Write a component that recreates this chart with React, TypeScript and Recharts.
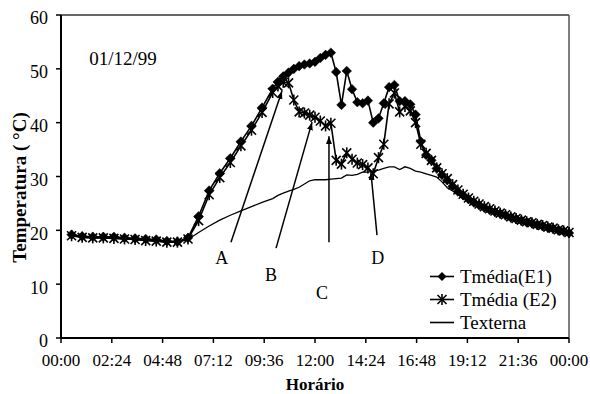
import React from 'react';
import {
  LineChart,
  Line,
  XAxis,
  YAxis,
  Legend,
  ReferenceLine,
  ReferenceDot,
  Label,
} from 'recharts';

// ---- data (hours since midnight) ----
const hours = [
  0.5, 1, 1.5, 2, 2.5, 3, 3.5, 4, 4.5, 5, 5.5, 6, 6.5, 7, 7.5, 8, 8.5, 9, 9.5, 10,
  10.25, 10.5, 10.75, 11, 11.25, 11.5, 11.75, 12, 12.25, 12.5, 12.75, 13,
  13.25, 13.5, 13.75, 14, 14.25, 14.5, 14.75, 15, 15.25, 15.5, 15.75, 16,
  16.25, 16.5, 16.75, 17, 17.25, 17.5, 17.75, 18,
  18.25, 18.5, 18.75, 19, 19.25, 19.5, 19.75, 20, 20.25, 20.5, 20.75, 21,
  21.25, 21.5, 21.75, 22, 22.25, 22.5, 22.75, 23, 23.25, 23.5, 23.75, 24,
];

const tmediaE1 = [
  19.2, 18.9, 18.8, 18.8, 18.8, 18.6, 18.5, 18.4, 18.3, 18.0, 17.9,
  18.6, 22.6, 27.4, 30.6, 33.4, 36.5, 39.4, 42.8, 46.3,
  47.6, 48.6, 49.3, 50.0, 50.5, 50.8, 51.0, 51.3, 52.0, 52.6, 53.0, 49.4,
  43.3, 49.6, 46.2, 43.8, 43.6, 44.1, 40.0, 40.8, 43.6, 46.6, 47.0, 44.0,
  44.0, 43.4, 41.5, 36.5, 34.0, 33.0, 31.5, 30.3,
  29.3, 28.2, 27.2, 26.5, 25.8, 25.2, 24.7, 24.2, 23.8, 23.4, 23.1, 22.8,
  22.4, 22.1, 21.8, 21.5, 21.3, 21.0, 20.8, 20.5, 20.3, 20.0, 19.8, 19.5,
];

const tmediaE2 = [
  19.0, 18.7, 18.6, 18.6, 18.5, 18.4, 18.3, 18.1, 18.0, 17.8, 17.8,
  18.4, 21.8, 26.6, 29.8, 32.6, 35.7, 38.6, 41.9, 45.6,
  46.8, 47.5, 47.4, 44.2, 42.0, 41.8, 41.4, 41.0, 40.3, 39.4, 39.9, 33.0,
  32.3, 34.4, 33.2, 32.5, 32.2, 31.6, 30.5, 33.5, 36.0, 43.5, 45.5, 42.0,
  43.0, 42.2, 40.0, 36.0, 34.3, 33.0, 31.6, 30.5,
  29.6, 28.5, 27.5, 26.7, 26.0, 25.4, 24.9, 24.4, 24.0, 23.6, 23.2, 22.9,
  22.5, 22.2, 21.9, 21.6, 21.4, 21.1, 20.9, 20.6, 20.4, 20.1, 19.9, 19.6,
];

const texterna = [
  19.0, 18.7, 18.6, 18.6, 18.5, 18.4, 18.3, 18.1, 18.0, 17.8, 17.8,
  18.3, 19.6, 20.8, 21.9, 22.8, 23.6, 24.4, 25.2, 25.9,
  26.5, 26.9, 27.3, 27.6, 28.0, 28.6, 29.2, 29.4, 29.4, 29.4, 29.5, 29.6,
  29.7, 30.3, 30.2, 30.4, 30.8, 30.8, 31.0, 31.2, 31.5, 31.8, 31.8, 31.3,
  31.8, 31.5, 31.0, 30.8, 30.5, 30.2, 29.9, 29.0,
  27.9, 27.3, 26.8, 26.2, 25.6, 25.0, 24.5, 24.0, 23.6, 23.2, 22.9, 22.6,
  22.2, 21.9, 21.6, 21.3, 21.1, 20.8, 20.6, 20.3, 20.1, 19.8, 19.6, 19.3,
];

const xTicks = [0, 2.4, 4.8, 7.2, 9.6, 12, 14.4, 16.8, 19.2, 21.6, 24];
const yTicks = [0, 10, 20, 30, 40, 50, 60];

const seriesNames = ['Tmédia(E1)', 'Tmédia (E2)', 'Texterna'];
const dateText = '01/12/99';

// annotation arrows
const arrowLetters = ['A', 'B', 'C', 'D'];
const arrowStarts = [
  { x: 8.03, y: 17.8 },
  { x: 10.16, y: 16.7 },
  { x: 12.66, y: 17.8 },
  { x: 14.93, y: 19.1 },
];
const arrowEnds = [
  { x: 10.44, y: 45.9 },
  { x: 11.86, y: 40.1 },
  { x: 12.66, y: 37.5 },
  { x: 14.64, y: 30.8 },
];
const letterSpots = [
  { x: 7.6, y: 15.0 },
  { x: 9.92, y: 11.7 },
  { x: 12.33, y: 8.4 },
  { x: 14.97, y: 15.0 },
];

const data = hours.map((h, i) => ({
  h,
  e1: tmediaE1[i],
  e2: tmediaE2[i],
  ext: texterna[i],
}));

const FONT = '"Liberation Serif", "Times New Roman", serif';

const fmtTime = (h: number) => {
  const mins = Math.round(h * 60) % 1440;
  const hh = Math.floor(mins / 60);
  const mm = mins % 60;
  return `${String(hh).padStart(2, '0')}:${String(mm).padStart(2, '0')}`;
};

const DiamondDot = (props: any) => {
  const { cx, cy, index } = props;
  if (cx == null || cy == null) return <g key={`e1-${index}`} />;
  const r = 4.8;
  return (
    <polygon
      key={`e1-${index}`}
      points={`${cx},${cy - r} ${cx + r},${cy} ${cx},${cy + r} ${cx - r},${cy}`}
      fill="#000"
      stroke="#000"
      strokeWidth={0.5}
    />
  );
};

const StarDot = (props: any) => {
  const { cx, cy, index } = props;
  if (cx == null || cy == null) return <g key={`e2-${index}`} />;
  const r = 4.5;
  return (
    <g key={`e2-${index}`} stroke="#000" strokeWidth={1.6}>
      <line x1={cx - r} y1={cy - r} x2={cx + r} y2={cy + r} />
      <line x1={cx - r} y1={cy + r} x2={cx + r} y2={cy - r} />
      <line x1={cx} y1={cy - r - 1} x2={cx} y2={cy + r + 1} />
    </g>
  );
};

const renderLegend = () => (
  <div style={{ fontFamily: FONT, fontSize: 19, color: '#000' }}>
    {seriesNames.map((name, i) => (
      <div key={name} style={{ display: 'flex', alignItems: 'center', height: 23 }}>
        <svg width={28} height={23} style={{ marginRight: 4 }}>
          <line x1={2} y1={11.5} x2={26} y2={11.5} stroke="#000" strokeWidth={1.6} />
          {i === 0 && <polygon points="14,7 18.5,11.5 14,16 9.5,11.5" fill="#000" />}
          {i === 1 && (
            <g stroke="#000" strokeWidth={1.6}>
              <line x1={9.5} y1={7} x2={18.5} y2={16} />
              <line x1={9.5} y1={16} x2={18.5} y2={7} />
              <line x1={14} y1={6} x2={14} y2={17} />
            </g>
          )}
        </svg>
        <span style={{ lineHeight: '23px', whiteSpace: 'nowrap' }}>{name}</span>
      </div>
    ))}
  </div>
);

const XTitle = (props: any) => {
  const { x, y, width, height } = props.viewBox;
  return (
    <text
      x={x + width / 2}
      y={y + height - 4}
      textAnchor="middle"
      fontFamily={FONT}
      fontSize={17}
      fontWeight="bold"
      fill="#000"
    >
      Horário
    </text>
  );
};

const YTitle = (props: any) => {
  const { x, y, height } = props.viewBox;
  const cx = x + 19;
  const cy = y + height / 2 + 11;
  return (
    <text
      x={cx}
      y={cy}
      transform={`rotate(-90 ${cx} ${cy})`}
      textAnchor="middle"
      dominantBaseline="central"
      fontFamily={FONT}
      fontSize={19}
      fontWeight="bold"
      fill="#000"
    >
      Temperatura ( °C)
    </text>
  );
};

export default function App() {
  return (
    <div style={{ position: 'absolute', left: 0, top: 0, width: 590, height: 394, background: '#fff' }}>
      <svg width={0} height={0} style={{ position: 'absolute' }}>
        <defs>
          <marker
            id="arrowHead"
            markerUnits="userSpaceOnUse"
            markerWidth={9}
            markerHeight={7}
            refX={8}
            refY={3}
            orient="auto"
          >
            <path d="M0,0 L8,3 L0,6 z" fill="#000" />
          </marker>
        </defs>
      </svg>
      <LineChart
        width={590}
        height={394}
        data={data}
        margin={{ top: 15, right: 21, bottom: 0, left: 0 }}
      >
        <XAxis
          dataKey="h"
          type="number"
          domain={[0, 24]}
          ticks={xTicks}
          interval={0}
          tickFormatter={fmtTime}
          height={56}
          tickSize={5}
          tickMargin={11}
          axisLine={{ stroke: '#000', strokeWidth: 2 }}
          tickLine={{ stroke: '#000', strokeWidth: 1.5 }}
          tick={{ fill: '#000', fontSize: 17, fontFamily: FONT }}
        >
          <Label content={XTitle} />
        </XAxis>
        <YAxis
          type="number"
          domain={[0, 60]}
          ticks={yTicks}
          interval={0}
          width={61}
          tickSize={5}
          tickMargin={8}
          axisLine={{ stroke: '#000', strokeWidth: 2 }}
          tickLine={{ stroke: '#000', strokeWidth: 1.5 }}
          tick={{ fill: '#000', fontSize: 18, fontFamily: FONT, dy: 3 }}
        >
          <Label content={YTitle} />
        </YAxis>
        <ReferenceLine y={60} stroke="#333" strokeWidth={1.5} />
        <ReferenceLine x={24} stroke="#555" strokeWidth={1.5} />
        <Line
          dataKey="ext"
          name={seriesNames[2]}
          stroke="#000"
          strokeWidth={1.3}
          dot={false}
          isAnimationActive={false}
        />
        <Line
          dataKey="e2"
          name={seriesNames[1]}
          stroke="#000"
          strokeWidth={1.6}
          dot={StarDot}
          isAnimationActive={false}
        />
        <Line
          dataKey="e1"
          name={seriesNames[0]}
          stroke="#000"
          strokeWidth={1.6}
          dot={DiamondDot}
          isAnimationActive={false}
        />
        {arrowLetters.map((l, i) => (
          <ReferenceLine
            key={`arr-${l}`}
            segment={[arrowStarts[i], arrowEnds[i]]}
            stroke="#000"
            strokeWidth={1.5}
            markerEnd="url(#arrowHead)"
          />
        ))}
        {arrowLetters.map((l, i) => (
          <ReferenceDot
            key={`lbl-${l}`}
            x={letterSpots[i].x}
            y={letterSpots[i].y}
            r={0}
            fill="none"
            stroke="none"
            label={{ value: l, position: 'center', fill: '#000', fontSize: 18, fontFamily: FONT }}
          />
        ))}
        <ReferenceDot
          x={2.93}
          y={52}
          r={0}
          fill="none"
          stroke="none"
          label={{ value: dateText, position: 'center', fill: '#000', fontSize: 19, fontFamily: FONT }}
        />
        <Legend
          layout="vertical"
          align="center"
          verticalAlign="middle"
          content={renderLegend}
          wrapperStyle={{ left: 428, top: 265, width: 150 }}
        />
      </LineChart>
    </div>
  );
}
